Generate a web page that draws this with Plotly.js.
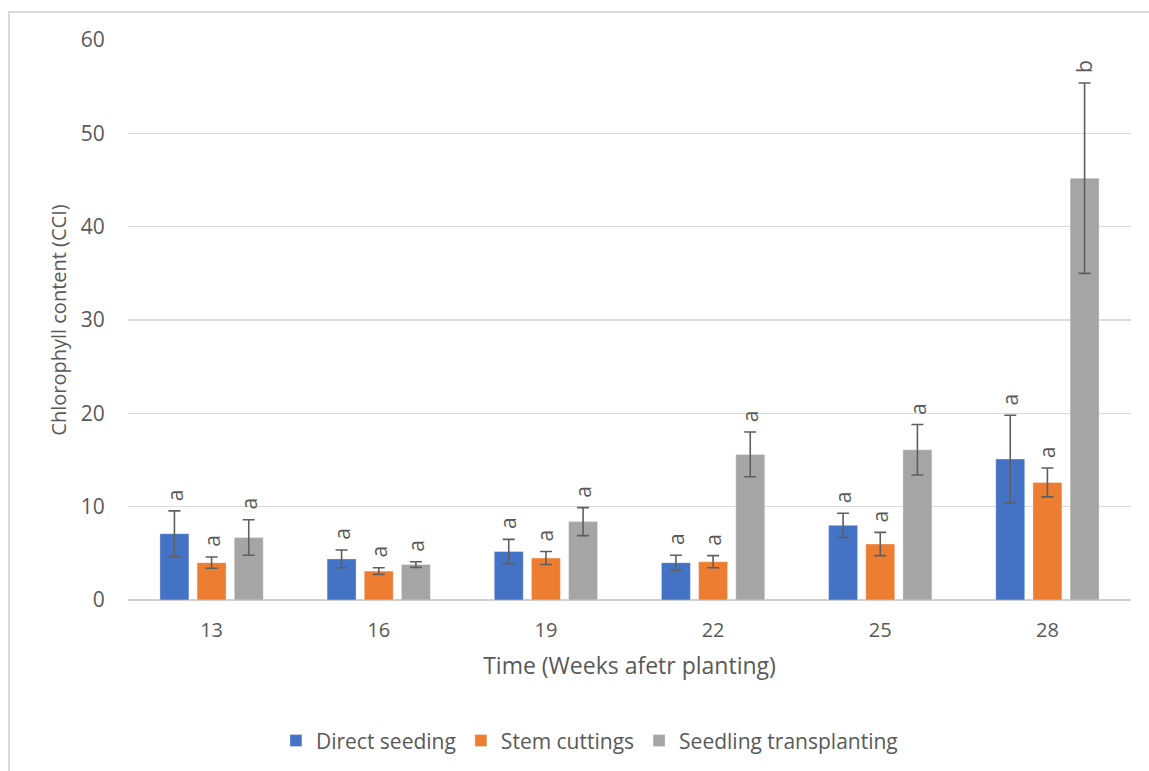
<!DOCTYPE html>
<html>
<head>
<meta charset="utf-8">
<script src="https://cdn.plot.ly/plotly-3.0.1.min.js"></script>
<style>
  html, body { margin: 0; padding: 0; background: #fff; }
  #wrap { position: relative; width: 1149px; height: 771px; }
  #chart { width: 1149px; height: 771px; }
  #frame { position: absolute; left: 8px; top: 11px; right: 0; bottom: 0;
           border-left: 2px solid #d9d9d9; border-top: 2px solid #d9d9d9; pointer-events: none; }
</style>
</head>
<body>
<div id="wrap"><div id="chart"></div><div id="frame"></div></div>
<script>
const weeks = ['13', '16', '19', '22', '25', '28'];
const seriesNames = ['Direct seeding', 'Stem cuttings', 'Seedling transplanting'];
const directSeeding = [7.1, 4.4, 5.2, 4.0, 8.0, 15.1];
const stemCuttings = [4.0, 3.1, 4.5, 4.1, 6.0, 12.6];
const seedlingTransplanting = [6.7, 3.8, 8.4, 15.6, 16.1, 45.2];
const directErr = [2.45, 0.95, 1.3, 0.8, 1.3, 4.7];
const stemErr = [0.6, 0.35, 0.7, 0.65, 1.25, 1.55];
const seedlingErr = [1.9, 0.3, 1.5, 2.4, 2.7, 10.2];
const directLetters = ['a', 'a', 'a', 'a', 'a', 'a'];
const stemLetters = ['a', 'a', 'a', 'a', 'a', 'a'];
const seedlingLetters = ['a', 'a', 'a', 'a', 'a', 'b'];

const colors = ['#4472C4', '#ED7D31', '#A5A5A5'];
const values = [directSeeding, stemCuttings, seedlingTransplanting];
const errs = [directErr, stemErr, seedlingErr];
const letters = [directLetters, stemLetters, seedlingLetters];

const FONT = '"Open Sans", "Noto Sans", sans-serif';
const TXT = '#595959';
const bargap = 0.333, bargroupgap = 0.22;

const traces = values.map((v, i) => ({
  type: 'bar',
  name: seriesNames[i],
  x: weeks,
  y: v,
  marker: { color: colors[i], line: { color: 'rgba(255,255,255,0.35)', width: 1 } },
  error_y: { type: 'data', array: errs[i], visible: true, color: '#5f5f5f', thickness: 1.6, width: 6 }
}));

const slot = (1 - bargap) / values.length;
const annotations = [];
values.forEach((v, i) => {
  v.forEach((val, j) => {
    annotations.push({
      xref: 'x', yref: 'y',
      x: j + (i - (values.length - 1) / 2) * slot,
      y: val + errs[i][j],
      text: letters[i][j],
      textangle: -90,
      showarrow: false,
      xanchor: 'center', yanchor: 'bottom',
      yshift: 8,
      font: { family: FONT, size: 21, color: TXT }
    });
  });
});

const layout = {
  width: 1149, height: 771,
  paper_bgcolor: '#fff', plot_bgcolor: '#fff',
  margin: { l: 128, r: 18, t: 40, b: 171 },
  barmode: 'group', bargap: bargap, bargroupgap: bargroupgap,
  font: { family: FONT, color: TXT },
  xaxis: {
    type: 'category',
    showgrid: false, zeroline: false,
    showline: false,
    ticks: 'outside', ticklen: 12, tickcolor: 'rgba(0,0,0,0)',
    tickfont: { family: FONT, size: 20, color: TXT },
    title: { text: 'Time (Weeks afetr planting)', font: { family: FONT, size: 23, color: TXT }, standoff: 15 }
  },
  yaxis: {
    range: [0, 60], dtick: 10, tick0: 0,
    showgrid: true, gridcolor: '#d9d9d9', gridwidth: 1.3,
    zeroline: true, zerolinecolor: '#d0d0d0', zerolinewidth: 2,
    showline: false,
    ticks: 'outside', ticklen: 18, tickcolor: 'rgba(0,0,0,0)',
    tickfont: { family: FONT, size: 21, color: TXT },
    title: { text: 'Chlorophyll content (CCI)', font: { family: FONT, size: 20, color: TXT }, standoff: 8 }
  },
  showlegend: true,
  legend: {
    orientation: 'h', xref: 'container', yref: 'container',
    x: 0.513, xanchor: 'center', y: 0.039, yanchor: 'middle',
    font: { family: FONT, size: 21, color: TXT },
    itemwidth: 30, traceorder: 'normal'
  },
  annotations: annotations
};

Plotly.newPlot('chart', traces, layout, { displayModeBar: false, staticPlot: true });
</script>
</body>
</html>
